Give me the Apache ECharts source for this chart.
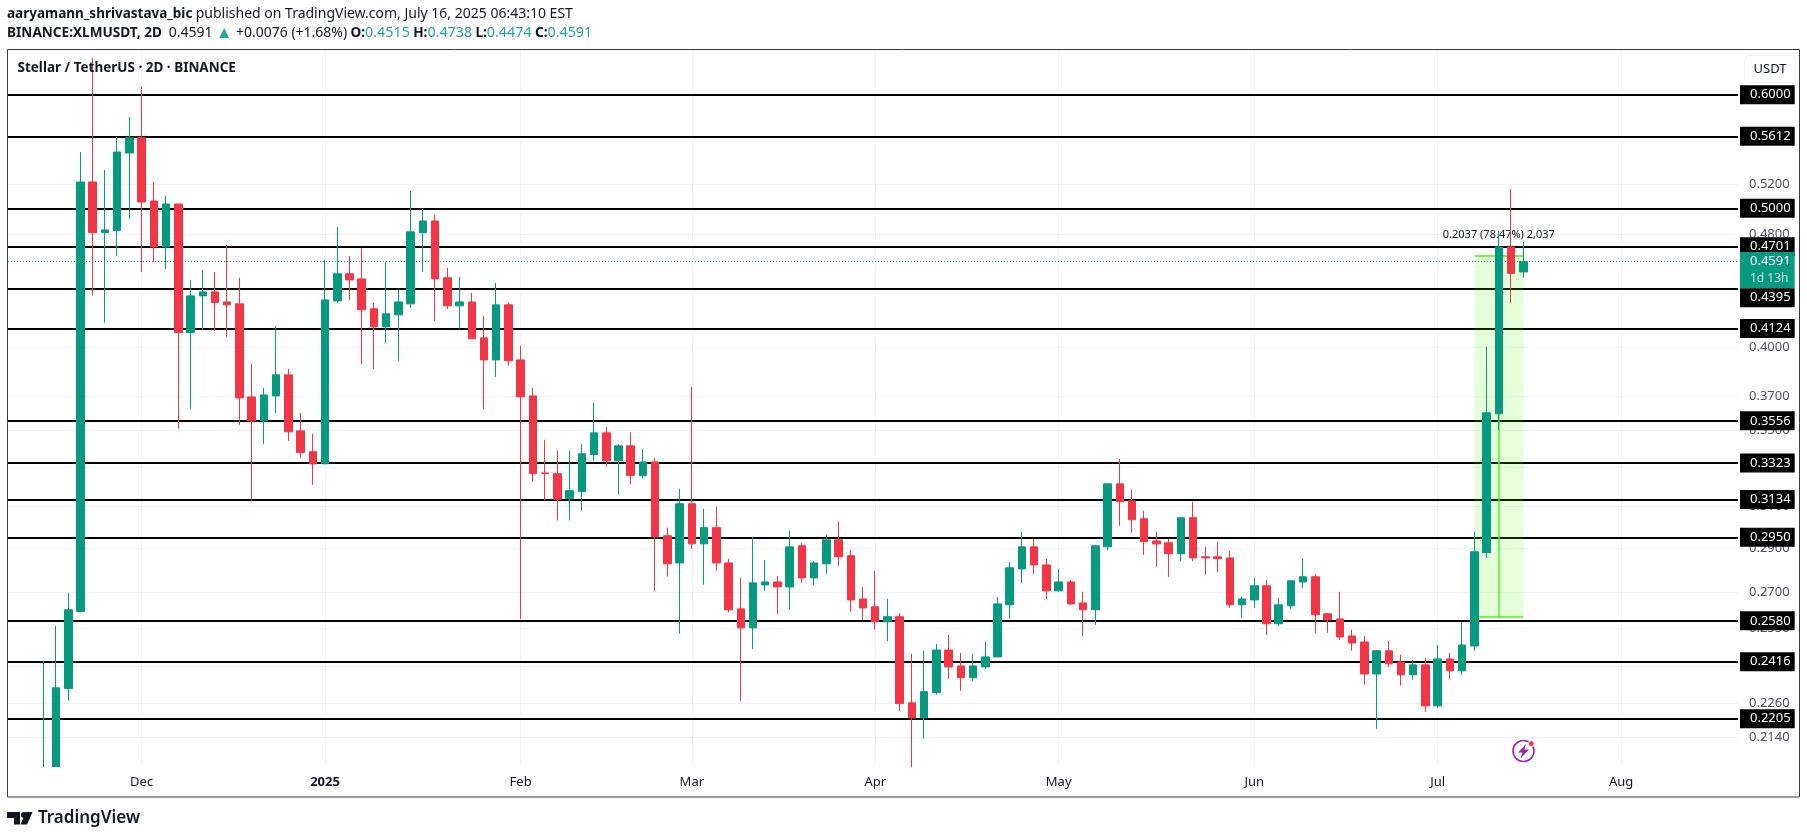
<!DOCTYPE html>
<html>

<head>
    <meta charset="utf-8">
    <title>XLMUSDT 2D</title>
    <style>
        html, body { margin: 0; padding: 0; background: #fff; }
    </style>
</head>

<body>
    <div id="main" style="width: 1807px;height:839px;"></div>

    <script src="https://cdnjs.cloudflare.com/ajax/libs/echarts/6.0.0/echarts.min.js"></script>
    <script>
        // candles, 2D bars, oldest first.
        var opens = [
            0.1980, 0.2030, 0.2315, 0.2619, 0.5216, 0.4809, 0.4825, 0.5464, 0.5600, 0.5059,
            0.4700, 0.5035, 0.4097, 0.4345, 0.4373, 0.4303, 0.4290, 0.3695, 0.3555, 0.3701,
            0.3828, 0.3499, 0.3384, 0.3319, 0.4310, 0.4502, 0.4465, 0.4256, 0.4135, 0.4215,
            0.4290, 0.4808, 0.4900, 0.4473, 0.4276, 0.4303, 0.4062, 0.3921, 0.4283, 0.3921,
            0.3701, 0.3271, 0.3267, 0.3138, 0.3174, 0.3369, 0.3488, 0.3335, 0.3416, 0.3256,
            0.3329, 0.2957, 0.2831, 0.3113, 0.2919, 0.2996, 0.2831, 0.2630, 0.2551, 0.2733,
            0.2746, 0.2724, 0.2910, 0.2764, 0.2827, 0.2938, 0.2864, 0.2672, 0.2639, 0.2576,
            0.2597, 0.2262, 0.2208, 0.2299, 0.2462, 0.2400, 0.2355, 0.2396, 0.2435, 0.2647,
            0.2804, 0.2905, 0.2822, 0.2707, 0.2746, 0.2655, 0.2626, 0.2905, 0.3214, 0.3128,
            0.3039, 0.2933, 0.2924, 0.2873, 0.3044, 0.2859, 0.2859, 0.2854, 0.2647, 0.2668,
            0.2729, 0.2568, 0.2643, 0.2746, 0.2769, 0.2609, 0.2588, 0.2518, 0.2494, 0.2369,
            0.2459, 0.2415, 0.2366, 0.2404, 0.2251, 0.2427, 0.2381, 0.2478, 0.2878, 0.3596,
            0.4700, 0.4515
        ];
        var closes = [
            0.2030, 0.2317, 0.2626, 0.5216, 0.4809, 0.4830, 0.5473, 0.5600, 0.5051, 0.4700,
            0.5035, 0.4097, 0.4345, 0.4373, 0.4299, 0.4283, 0.3689, 0.3555, 0.3707, 0.3828,
            0.3494, 0.3379, 0.3319, 0.4317, 0.4502, 0.4458, 0.4249, 0.4135, 0.4222, 0.4303,
            0.4815, 0.4900, 0.4465, 0.4276, 0.4303, 0.4056, 0.3921, 0.4283, 0.3915, 0.3695,
            0.3267, 0.3267, 0.3135, 0.3179, 0.3373, 0.3488, 0.3335, 0.3416, 0.3258, 0.3329,
            0.2952, 0.2827, 0.3113, 0.2919, 0.2996, 0.2831, 0.2626, 0.2551, 0.2742, 0.2746,
            0.2724, 0.2905, 0.2764, 0.2831, 0.2938, 0.2859, 0.2668, 0.2634, 0.2576, 0.2597,
            0.2259, 0.2208, 0.2303, 0.2462, 0.2396, 0.2355, 0.2400, 0.2435, 0.2651, 0.2809,
            0.2905, 0.2822, 0.2707, 0.2746, 0.2651, 0.2626, 0.2910, 0.3214, 0.3123, 0.3034,
            0.2929, 0.2919, 0.2873, 0.3044, 0.2854, 0.2854, 0.2850, 0.2647, 0.2672, 0.2729,
            0.2568, 0.2647, 0.2751, 0.2769, 0.2605, 0.2584, 0.2514, 0.2490, 0.2369, 0.2459,
            0.2408, 0.2366, 0.2404, 0.2251, 0.2427, 0.2381, 0.2482, 0.2882, 0.3602, 0.4700,
            0.4505, 0.4591
        ];
        var lows = [
            0.1960, 0.1990, 0.2270, 0.2615, 0.4347, 0.4163, 0.4633, 0.4916, 0.4516, 0.4588,
            0.4537, 0.3511, 0.3625, 0.4115, 0.4108, 0.4069, 0.3533, 0.3128, 0.3427, 0.3602,
            0.3444, 0.3351, 0.3209, 0.3319, 0.4297, 0.4317, 0.3896, 0.3865, 0.4030, 0.3915,
            0.4263, 0.4516, 0.4174, 0.4256, 0.4122, 0.4056, 0.3625, 0.3816, 0.3884, 0.2588,
            0.3225, 0.3129, 0.3031, 0.3031, 0.3080, 0.3335, 0.3304, 0.3160, 0.3211, 0.3242,
            0.2708, 0.2770, 0.2528, 0.2897, 0.2734, 0.2797, 0.2615, 0.2269, 0.2466, 0.2707,
            0.2609, 0.2626, 0.2742, 0.2733, 0.2782, 0.2818, 0.2618, 0.2584, 0.2543, 0.2498,
            0.2233, 0.2040, 0.2135, 0.2292, 0.2351, 0.2306, 0.2343, 0.2389, 0.2435, 0.2588,
            0.2742, 0.2782, 0.2672, 0.2703, 0.2647, 0.2518, 0.2563, 0.2891, 0.3005, 0.2972,
            0.2868, 0.2813, 0.2769, 0.2840, 0.2840, 0.2778, 0.2791, 0.2634, 0.2592, 0.2634,
            0.2522, 0.2559, 0.2630, 0.2720, 0.2531, 0.2531, 0.2502, 0.2459, 0.2329, 0.2170,
            0.2396, 0.2325, 0.2347, 0.2230, 0.2244, 0.2351, 0.2366, 0.2459, 0.2854, 0.3505,
            0.4297, 0.4474
        ];
        var highs = [
            0.2420, 0.2559, 0.2699, 0.5473, 0.6364, 0.5317, 0.5606, 0.5789, 0.6075, 0.5216,
            0.5100, 0.5035, 0.4458, 0.4530, 0.4516, 0.4715, 0.4473, 0.3896, 0.3749, 0.4141,
            0.3865, 0.3602, 0.3483, 0.4603, 0.4853, 0.4633, 0.4693, 0.4297, 0.4588, 0.4387,
            0.5142, 0.4995, 0.4948, 0.4545, 0.4480, 0.4366, 0.4208, 0.4437, 0.4297, 0.4011,
            0.3749, 0.3449, 0.3390, 0.3390, 0.3427, 0.3660, 0.3521, 0.3427, 0.3494, 0.3400,
            0.3351, 0.2996, 0.3189, 0.3755, 0.3088, 0.3098, 0.2850, 0.2764, 0.2952, 0.2845,
            0.2773, 0.2981, 0.2924, 0.2840, 0.2962, 0.3024, 0.2891, 0.2724, 0.2795, 0.2672,
            0.2613, 0.2447, 0.2459, 0.2486, 0.2522, 0.2451, 0.2447, 0.2494, 0.2681, 0.2836,
            0.2976, 0.2943, 0.2850, 0.2804, 0.2755, 0.2703, 0.2915, 0.3214, 0.3345, 0.3184,
            0.3078, 0.2976, 0.2943, 0.3044, 0.3123, 0.2905, 0.2929, 0.2887, 0.2681, 0.2764,
            0.2755, 0.2677, 0.2751, 0.2850, 0.2782, 0.2613, 0.2703, 0.2543, 0.2518, 0.2462,
            0.2498, 0.2443, 0.2423, 0.2431, 0.2482, 0.2451, 0.2576, 0.2976, 0.4004, 0.4822,
            0.5158, 0.4738
        ];

        // month labels sit on the first candle of the month (candle index)
        var monthIndex = [8, 23, 39, 53, 68, 83, 99, 114, 129];
        var monthNames = ['Dec', '2025', 'Feb', 'Mar', 'Apr', 'May', 'Jun', 'Jul', 'Aug'];

        var priceTicks = [0.6, 0.56, 0.52, 0.48, 0.44, 0.40, 0.37, 0.35, 0.33, 0.31, 0.29, 0.27, 0.255, 0.24, 0.226, 0.214];
        var levels = [0.6000, 0.5612, 0.5000, 0.4701, 0.4395, 0.4124, 0.3556, 0.3323, 0.3134, 0.2950, 0.2580, 0.2416, 0.2205];
        var lastPrice = 0.4591;
        var measure = { from: 117, to: 121, low: 0.2596, high: 0.4633, mid: 119 };

        var UP = '#089981';
        var DOWN = '#F23645';
        var TEXT = '#131722';
        var FONT = '"Noto Sans", sans-serif';

        var candles = opens.map(function (o, i) {
            return [i, o, closes[i], lows[i], highs[i]];
        });

        var monthLabel = {};
        monthIndex.forEach(function (v, i) { monthLabel[v] = monthNames[i]; });

        var myChart = echarts.init(document.getElementById('main'));

        var option = {
            animation: false,
            backgroundColor: '#fff',
            textStyle: { fontFamily: FONT },
            grid: { left: 8, right: 69, top: 50, bottom: 73 },
            xAxis: {
                type: 'value',
                min: -2.928,
                max: 138.56,
                axisLine: { show: false },
                axisTick: { show: false, customValues: monthIndex },
                splitLine: { show: true, lineStyle: { color: '#f0f3fa', width: 1 } },
                axisLabel: {
                    customValues: monthIndex,
                    margin: 10,
                    fontSize: 13,
                    fontFamily: FONT,
                    color: TEXT,
                    formatter: function (v) {
                        return v === 23 ? '{y|' + monthLabel[v] + '}' : monthLabel[v];
                    },
                    rich: { y: { fontSize: 13, fontWeight: 'bold', fontFamily: FONT, color: TEXT } }
                }
            },
            yAxis: {
                type: 'log',
                logBase: 10,
                min: 0.2044,
                max: 0.6446,
                position: 'right',
                axisLine: { show: false },
                axisTick: { show: false },
                axisLabel: { show: false },
                splitLine: { show: false }
            },
            series: [
                {
                    // price scale grid, labels go behind the level tags
                    type: 'line',
                    data: [],
                    z: 1,
                    silent: true,
                    markLine: {
                        z: 1,
                        precision: 4,
                        silent: true,
                        symbol: 'none',
                        animation: false,
                        lineStyle: { color: '#f0f3fa', width: 1, type: 'solid' },
                        label: {
                            position: 'end',
                            distance: 11,
                            color: '#50535e',
                            fontSize: 13,
                            fontFamily: FONT,
                            formatter: function (p) { return p.value.toFixed(4); }
                        },
                        data: priceTicks.map(function (v) { return { yAxis: v }; })
                    }
                },
                {
                    // drawn horizontal levels
                    type: 'line',
                    data: [],
                    z: 2,
                    silent: true,
                    markLine: {
                        z: 2,
                        precision: 4,
                        silent: true,
                        symbol: 'none',
                        animation: false,
                        lineStyle: { color: '#000', width: 2, type: 'solid' },
                        label: {
                            position: 'end',
                            distance: 2,
                            color: '#fff',
                            backgroundColor: '#000',
                            fontSize: 13,
                            fontFamily: FONT,
                            padding: [3, 4, 3, 10],
                            formatter: function (p) { return p.value.toFixed(4); }
                        },
                        data: levels.map(function (v) {
                            // 0.4395 tag gets pushed down by the last price tag
                            return v === 0.4395 ? { yAxis: v, label: { offset: [0, 9] } } : { yAxis: v };
                        })
                    }
                },
                {
                    // last price line and countdown tag
                    type: 'line',
                    data: [],
                    z: 2,
                    silent: true,
                    markLine: {
                        z: 2,
                        precision: 4,
                        silent: true,
                        symbol: 'none',
                        animation: false,
                        lineStyle: { color: UP, width: 1, type: [1, 2] },
                        label: {
                            position: 'end',
                            distance: 2,
                            offset: [0, 8.5],
                            backgroundColor: UP,
                            padding: [1, 4, 1, 10],
                            formatter: function (p) {
                                return '{a|' + p.value.toFixed(4) + '}\n{b|1d 13h}';
                            },
                            rich: {
                                a: { color: '#fff', fontSize: 13, lineHeight: 17, fontFamily: FONT },
                                b: { color: '#c8e8e0', fontSize: 12, lineHeight: 17, fontFamily: FONT }
                            }
                        },
                        data: [{ yAxis: lastPrice }]
                    }
                },
                {
                    // price range measure
                    type: 'line',
                    data: [],
                    z: 3,
                    silent: true,
                    markArea: {
                        z: 3,
                        silent: true,
                        animation: false,
                        itemStyle: { color: 'rgba(76,255,0,0.15)' },
                        label: {
                            show: true,
                            position: 'top',
                            distance: 16,
                            color: TEXT,
                            fontSize: 11,
                            fontFamily: FONT,
                            formatter: '0.2037 (78.47%) 2,037'
                        },
                        data: [[
                            { coord: [measure.from, measure.high] },
                            { coord: [measure.to, measure.low] }
                        ]]
                    },
                    markLine: {
                        z: 3,
                        precision: 4,
                        silent: true,
                        symbol: 'none',
                        animation: false,
                        label: { show: false },
                        lineStyle: { color: '#4cf01e', width: 1.5, type: 'solid' },
                        data: [
                            [{ coord: [measure.from, measure.high] }, { coord: [measure.to, measure.high] }],
                            [{ coord: [measure.from, measure.low] }, { coord: [measure.to, measure.low] }],
                            [{ coord: [measure.mid, measure.low] }, { coord: [measure.mid, measure.high] }]
                        ]
                    }
                },
                {
                    type: 'candlestick',
                    z: 4,
                    barWidth: 8,
                    silent: true,
                    itemStyle: {
                        color: UP,
                        color0: DOWN,
                        borderColor: UP,
                        borderColor0: DOWN,
                        borderColorDoji: DOWN,
                        borderWidth: 1
                    },
                    data: candles
                }
            ],
            graphic: [
                {
                    type: 'text', x: 7, y: 14.5, z: 10, silent: true,
                    style: {
                        text: '{b|aaryamann_shrivastava_bic} {n|published on TradingView.com, July 16, 2025 06:43:10 EST}',
                        verticalAlign: 'middle',
                        rich: {
                            b: { font: 'bold 13.5px ' + FONT, fill: TEXT },
                            n: { font: '14px ' + FONT, fill: TEXT }
                        }
                    }
                },
                {
                    type: 'text', x: 7, y: 33, z: 10, silent: true,
                    style: {
                        text: '{b|BINANCE:XLMUSDT, 2D}  {n|0.4591} {t|▲} {n|+0.0076 (+1.68%)} {b|O:}{u|0.4515} {b|H:}{u|0.4738} {b|L:}{u|0.4474} {b|C:}{u|0.4591}',
                        verticalAlign: 'middle',
                        rich: {
                            b: { font: 'bold 13.6px ' + FONT, fill: TEXT },
                            n: { font: '14px ' + FONT, fill: TEXT },
                            u: { font: '14.3px ' + FONT, fill: '#26a69a' },
                            t: { font: '17px ' + FONT, fill: '#26a69a' }
                        }
                    }
                },
                {
                    type: 'rect', z: 0, silent: true,
                    shape: { x: 7.5, y: 49.5, width: 1792, height: 747.5 },
                    style: { fill: null, stroke: '#363a45', lineWidth: 1 }
                },
                {
                    // the pane cuts off the oldest candles, candlestick only drops whole boxes
                    type: 'rect', z: 10, silent: true,
                    shape: { x: 30, y: 767, width: 36, height: 29 },
                    style: { fill: '#fff' }
                },
                {
                    type: 'text', x: 17.5, y: 68, z: 10, silent: true,
                    style: {
                        text: 'Stellar / TetherUS · 2D · BINANCE',
                        font: 'bold 13.5px ' + FONT,
                        fill: TEXT,
                        verticalAlign: 'middle'
                    }
                },
                {
                    type: 'rect', z: 10, silent: true,
                    shape: { x: 1744.5, y: 55.5, width: 51, height: 27, r: 4 },
                    style: { fill: '#fff', stroke: '#f0f3fa', lineWidth: 1 }
                },
                {
                    type: 'text', x: 1770, y: 69, z: 11, silent: true,
                    style: {
                        text: 'USDT',
                        font: '13px ' + FONT,
                        fill: TEXT,
                        align: 'center',
                        verticalAlign: 'middle'
                    }
                },
                {
                    // small lightning badge near the bottom of the pane
                    type: 'circle', z: 10, silent: true,
                    shape: { cx: 1523.5, cy: 751, r: 10.5 },
                    style: { fill: '#fff', stroke: '#9c27b0', lineWidth: 1.6 }
                },
                {
                    type: 'polygon', z: 11, silent: true,
                    shape: { points: [[1526, 744], [1518, 752.5], [1522.5, 752.5], [1520.5, 758.5], [1529, 749.5], [1524.5, 749.5]] },
                    style: { fill: '#9c27b0' }
                },
                {
                    type: 'circle', z: 12, silent: true,
                    shape: { cx: 1531.3, cy: 743.7, r: 3 },
                    style: { fill: DOWN, stroke: '#fff', lineWidth: 1 }
                },
                {
                    // TradingView mark
                    type: 'polygon', z: 10, silent: true,
                    shape: { points: [[7, 812], [20, 812], [20, 824.5], [14, 824.5], [14, 818], [7, 818]] },
                    style: { fill: TEXT }
                },
                {
                    type: 'circle', z: 10, silent: true,
                    shape: { cx: 24, cy: 815, r: 3 },
                    style: { fill: TEXT }
                },
                {
                    type: 'polygon', z: 10, silent: true,
                    shape: { points: [[26, 812], [32.5, 812], [27, 824.5], [20.5, 824.5]] },
                    style: { fill: TEXT }
                },
                {
                    type: 'text', x: 38, y: 818, z: 10, silent: true,
                    style: {
                        text: 'TradingView',
                        font: '600 17px ' + FONT,
                        fill: TEXT,
                        verticalAlign: 'middle'
                    }
                }
            ]
        };

        myChart.setOption(option);
    </script>
</body>

</html>
